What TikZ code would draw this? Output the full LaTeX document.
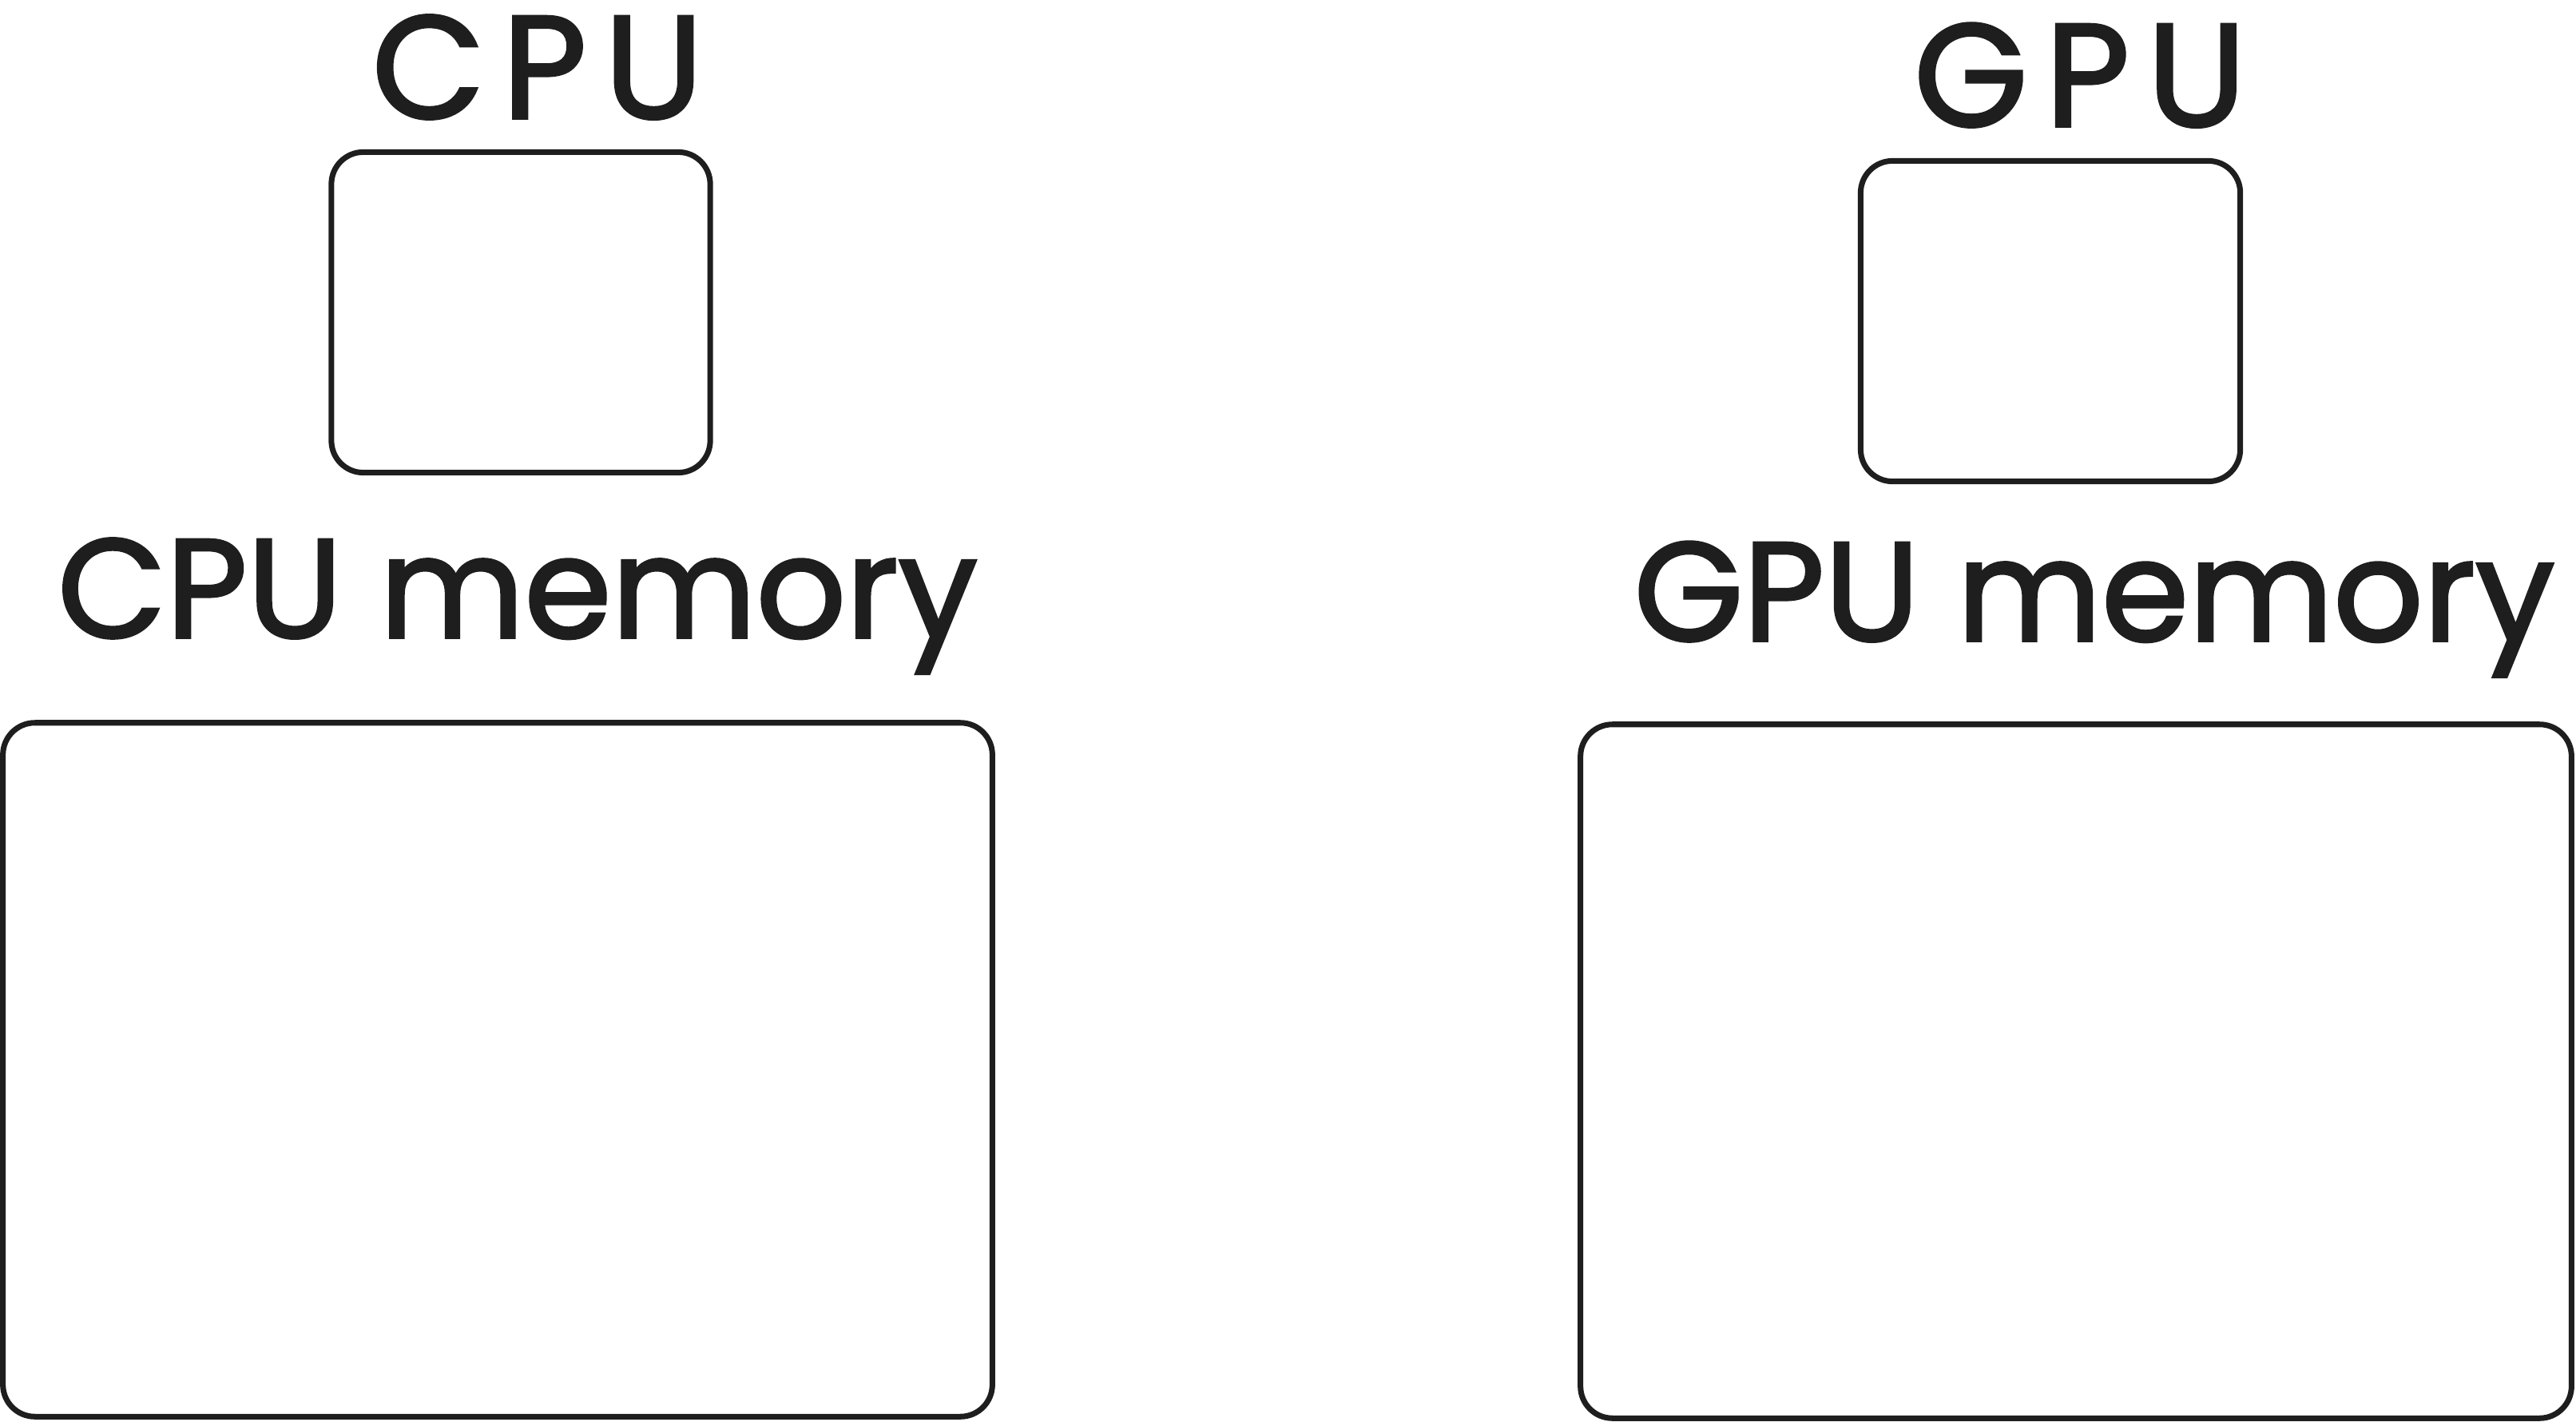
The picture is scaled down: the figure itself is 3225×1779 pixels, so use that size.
\documentclass[tikz,border=0pt]{standalone}
\usepackage{fontspec}
\setmainfont{Poppins}
\usetikzlibrary{positioning}
\definecolor{ink}{HTML}{1E1E1E}

\begin{document}
\begin{tikzpicture}[x=0.01cm, y=-0.01cm,
    box/.style={draw=ink, line width=2pt, rounded corners=0.4cm, inner sep=0pt},
    lbl/.style={text=ink, font=\fontsize{50}{60}\selectfont\addfontfeatures{FakeBold=2}, anchor=base, inner sep=0pt}]
    \useasboundingbox (0,0) rectangle (3225,1779);
    % processors
    \node [box, minimum width=4.74cm, minimum height=4.01cm] (cpu) at (652,391) {};
    \node [box, minimum width=4.75cm, minimum height=4.01cm] (gpu) at (2567,402) {};
    % memories
    \node [box, minimum width=12.38cm, minimum height=8.68cm] (cpumem) at (623,1339) {};
    \node [box, minimum width=12.40cm, minimum height=8.68cm] (gpumem) at (2599,1341) {};
    % labels
    \node [lbl, font=\fontsize{52}{60}\selectfont\addfontfeatures{FakeBold=2,LetterSpace=12}] (cpulbl) at (673,148) {CPU};
    \node [lbl, font=\fontsize{52}{60}\selectfont\addfontfeatures{FakeBold=2,LetterSpace=12}] (gpulbl) at (2604,158) {GPU};
    \node [lbl] (cpumemlbl) at (648,798) {CPU memory};
    \node [lbl] (gpumemlbl) at (2622,802) {GPU memory};
\end{tikzpicture}
\end{document}
